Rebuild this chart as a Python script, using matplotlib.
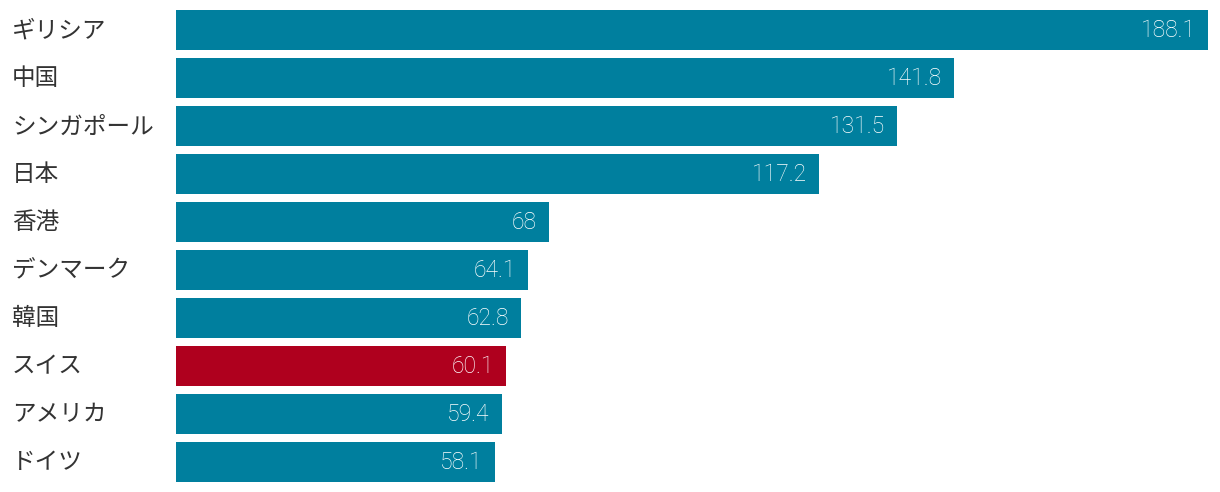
import matplotlib
matplotlib.use("Agg")
import matplotlib.pyplot as plt
from matplotlib.transforms import blended_transform_factory

plt.rcParams['font.family'] = ['Noto Sans CJK JP', 'DejaVu Sans']

countries = ["ギリシア", "中国", "シンガポール", "日本", "香港", "デンマーク", "韓国", "スイス", "アメリカ", "ドイツ"]
values = [188.1, 141.8, 131.5, 117.2, 68, 64.1, 62.8, 60.1, 59.4, 58.1]
highlight = "スイス"

teal = "#007f9e"
red = "#af001e"
colors = [red if c == highlight else teal for c in countries]

W, H = 1220, 492
fig = plt.figure(figsize=(W / 100, H / 100), dpi=100)
ax = fig.add_axes([176 / W, (H - 486) / H, (1208 - 176) / W, 480 / H])

ypos = list(range(len(countries)))
ax.barh(ypos, values, height=0.833, color=colors)
ax.set_xlim(0, max(values))
ax.set_ylim(len(countries) - 0.5, -0.5)
ax.axis('off')

for y, v in zip(ypos, values):
    label = f"{v:g}"
    ax.annotate(label, xy=(v, y), xytext=(-12, -1), textcoords='offset pixels',
                ha='right', va='center', color='white', fontsize=16.5,
                family=['Roboto', 'DejaVu Sans'], fontweight='light')

trans = blended_transform_factory(fig.transFigure, ax.transData)
for y, c in zip(ypos, countries):
    ax.annotate(c, xy=(12 / W, y), xycoords=trans, xytext=(0, -1),
                textcoords='offset pixels', ha='left', va='center',
                fontsize=17, color='#333333', annotation_clip=False)

fig.savefig("out.png", dpi=100)
